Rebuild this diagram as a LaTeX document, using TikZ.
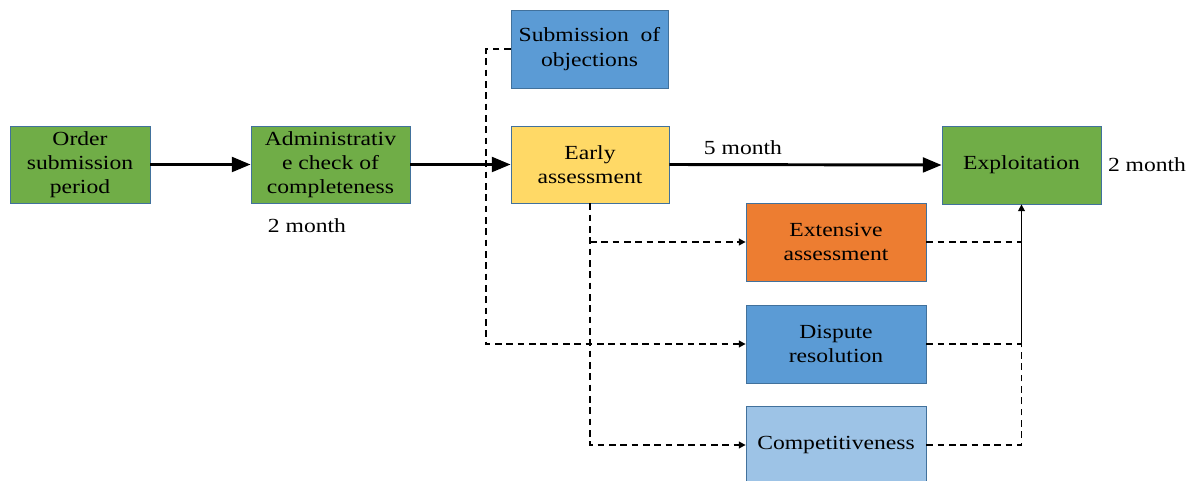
\documentclass[tikz,border=0pt]{standalone}
\usepackage{fontspec}
\setmainfont{Liberation Serif}[FakeStretch=1.18]
\usetikzlibrary{arrows.meta,calc}
\definecolor{cgreen}{HTML}{70AD47}
\definecolor{cblue}{HTML}{5B9BD5}
\definecolor{cyellow}{HTML}{FFD966}
\definecolor{corange}{HTML}{ED7D31}
\definecolor{clight}{HTML}{9DC3E6}
\definecolor{cborder}{HTML}{41719C}
\tikzset{
  box/.style={draw=cborder, line width=0.6pt, align=center, inner sep=1pt,
    font=\fontsize{15}{18.2}\selectfont},
  lbl/.style={font=\fontsize{15}{18.2}\selectfont, inner sep=0pt},
  thickarrow/.style={line width=2.2pt, -{Triangle[length=14pt,width=11pt]}},
  dsh/.style={line width=1.1pt, dash pattern=on 5pt off 3.5pt},
  dsharrow/.style={dsh, -{Triangle[length=5pt,width=5pt]}},
}
\begin{document}
\begin{tikzpicture}[x=0.75pt,y=-0.75pt]
\useasboundingbox (0,0) rectangle (1197,481);
\clip (0,0) rectangle (1197,481);
\node[box, fill=cgreen, minimum width=105pt, minimum height=57.75pt] (order) at (80,164.5) {Order\\submission\\period};
\node[box, fill=cgreen, minimum width=119.25pt, minimum height=57.75pt] (admin) at (330.5,164.5) {Administrativ\\e check of\\completeness};
\node[box, fill=cblue, minimum width=117.75pt, minimum height=58.5pt] (subm) at (589.5,49) {Submission\ \ of\\objections};
\node[box, fill=cyellow, minimum width=118.5pt, minimum height=57.75pt] (early) at (590,164.5) {Early\\assessment};
\node[box, fill=cgreen, minimum width=119.25pt, minimum height=58.5pt] (expl) at (1021.5,165) {Exploitation};
\node[box, fill=corange, minimum width=135pt, minimum height=58.5pt] (ext) at (836,242) {Extensive\\assessment};
\node[box, fill=cblue, minimum width=135pt, minimum height=58.5pt] (disp) at (836,344) {Dispute\\resolution};
\node[box, fill=clight, minimum width=135pt, minimum height=58.5pt] (comp) at (836,445) {Competitiveness};

\node[lbl] (l1) at (307,226) {2 month};
\node[lbl] (l2) at (743,148) {5 month};
\node[lbl] (l3) at (1147,165) {2 month};

\draw[thickarrow] (order.east) -- (admin.west);
\draw[thickarrow] (admin.east) -- (early.west);
\draw[thickarrow] (early.east) -- (expl.west);

\coordinate (sv) at (486,49);
\draw[dsharrow] (subm.west) -- (sv) |- (disp.west);
\draw[dsharrow] (early.south) |- (comp.west);
\draw[dsharrow] (early.south |- ext.west) -- (ext.west);

\coordinate (jn) at (disp.east -| expl.south);
\draw[dsh] (ext.east) -- (ext.east -| expl.south);
\draw[dsh] (disp.east) -- (jn);
\draw[dsh] (comp.east) -| (jn);
\draw[line width=1.1pt, -{Triangle[length=5pt,width=5pt]}] (jn) -- (expl.south);
\end{tikzpicture}
\end{document}
